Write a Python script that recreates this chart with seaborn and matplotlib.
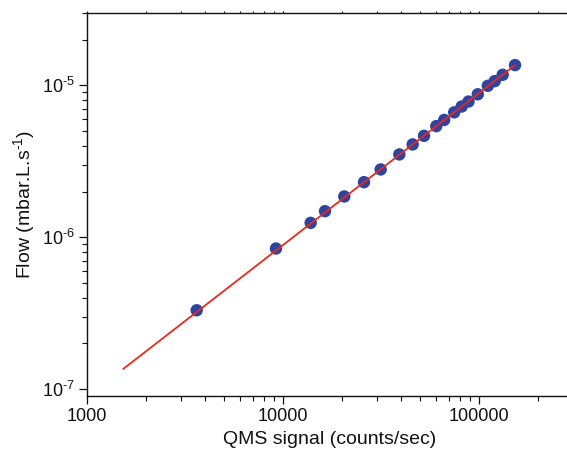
import numpy as np
import pandas as pd
import matplotlib
matplotlib.use("Agg")
import matplotlib.pyplot as plt
import matplotlib.ticker as mticker
import seaborn as sns

qms_signal = [3628, 9210, 13843, 16381, 20550, 25900, 31510, 39230, 45880, 52410,
              60550, 66440, 74730, 81600, 88400, 98600, 110900, 120300, 132100, 152700]
flow = [3.30e-7, 8.42e-7, 1.243e-6, 1.484e-6, 1.855e-6, 2.305e-6, 2.795e-6, 3.509e-6,
        4.085e-6, 4.654e-6, 5.392e-6, 5.923e-6, 6.646e-6, 7.259e-6, 7.83e-6, 8.74e-6,
        9.94e-6, 1.067e-5, 1.175e-5, 1.361e-5]

# Linear fit line end points
fit_x = [1531, 152700]
fit_y = [1.355e-7, 1.361e-5]

x_ticks = [1000, 10000, 100000]
x_tick_labels = ["1000", "10000", "100000"]
y_ticks = [1e-7, 1e-6, 1e-5]
y_tick_labels = [r"$10^{\text{-7}}$", r"$10^{\text{-6}}$", r"$10^{\text{-5}}$"]

sns.set_style("ticks")
plt.rcParams["font.family"] = ["Liberation Sans", "DejaVu Sans"]
plt.rcParams["mathtext.fontset"] = "custom"
plt.rcParams["mathtext.rm"] = "Liberation Sans"
plt.rcParams["mathtext.it"] = "Liberation Sans"
plt.rcParams["mathtext.default"] = "regular"

fig = plt.figure(figsize=(5.67, 4.58), dpi=100)
left = 87 / 567
bottom = 62.3 / 458
top = 445 / 458
width = (572.5 - 87) / 567
ax = fig.add_axes([left, bottom, width, top - bottom])

df = pd.DataFrame({"x": qms_signal, "y": flow})
fit_df = pd.DataFrame({"x": fit_x, "y": fit_y})

sns.scatterplot(data=df, x="x", y="y", ax=ax, color="#2E44A0", s=80,
                edgecolor="none", zorder=2)
sns.lineplot(data=fit_df, x="x", y="y", ax=ax, color="#E8291C", linewidth=1.3,
             zorder=3)

ax.set_xscale("log")
ax.set_yscale("log")
ax.set_xlim(1000, 3e5)
ax.set_ylim(9.03e-8, 3e-5)

ax.xaxis.set_major_locator(mticker.FixedLocator(x_ticks))
ax.xaxis.set_major_formatter(mticker.FixedFormatter(x_tick_labels))
ax.yaxis.set_major_locator(mticker.FixedLocator(y_ticks))
ax.yaxis.set_major_formatter(mticker.FixedFormatter(y_tick_labels))
ax.xaxis.set_minor_locator(mticker.LogLocator(base=10, subs=np.arange(2, 10)))
ax.yaxis.set_minor_locator(mticker.LogLocator(base=10, subs=np.arange(2, 10)))
ax.xaxis.set_minor_formatter(mticker.NullFormatter())
ax.yaxis.set_minor_formatter(mticker.NullFormatter())

for side in ["left", "bottom", "top"]:
    ax.spines[side].set_visible(True)
    ax.spines[side].set_linewidth(1.0)
    ax.spines[side].set_color("#111111")
ax.spines["right"].set_visible(False)

ax.tick_params(axis="both", which="major", direction="out", length=6, width=0.9,
               labelsize=13, colors="#111111", pad=3)
ax.tick_params(axis="both", which="minor", direction="out", length=3.5, width=0.8,
               colors="#111111")
ax.tick_params(axis="x", which="both", top=True, labeltop=False)
for t in ax.xaxis.get_ticklines(minor=False)[1::2]:
    t.set_markersize(1.5)
for t in ax.xaxis.get_ticklines(minor=True)[1::2]:
    t.set_markersize(1.5)

ax.set_xlabel("QMS signal (counts/sec)", fontsize=14, color="#111111", labelpad=4)
ax.set_ylabel(r"Flow (mbar.L.s$^{\text{-1}}$)", fontsize=14, color="#111111", labelpad=3)

fig.savefig("out.png", dpi=100)
